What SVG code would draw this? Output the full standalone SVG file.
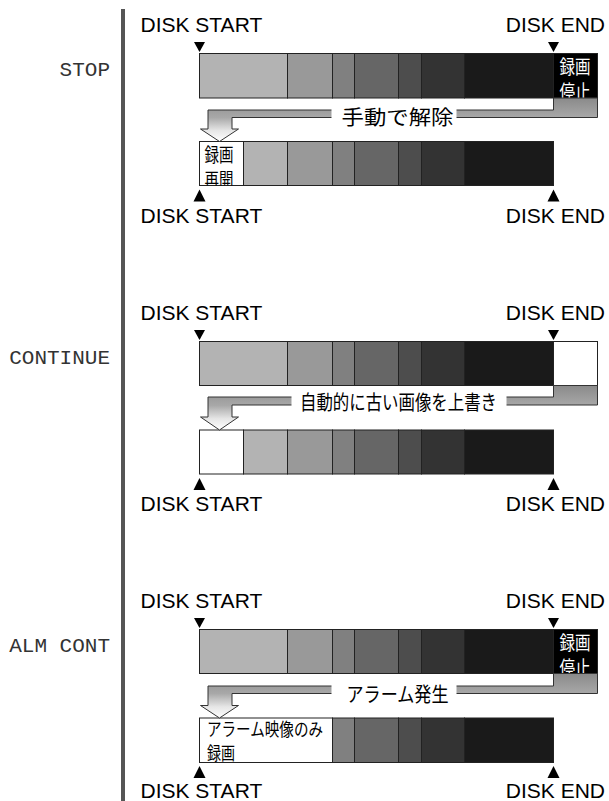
<svg xmlns="http://www.w3.org/2000/svg" width="609" height="801" viewBox="0 0 609 801">
<defs>
<style>
.mode{font-family:"Courier New","Liberation Mono",monospace;font-size:21px;fill:#333;text-anchor:end}
.disk{font-family:"Liberation Sans",Arial,sans-serif;font-size:21px;fill:#000}
.end{text-anchor:end}
.seg rect{stroke:#222;stroke-width:1}
.jp{font-family:"Noto Sans CJK JP","Noto Sans CJK SC",sans-serif;fill:#000}
.lbl{font-size:20px}
.box{font-size:19px}
.box2{font-size:18px}
.wt{fill:#fff}
.flow{fill:url(#fg);stroke:#333;stroke-width:1}
.c1{fill:#b3b3b3}.c2{fill:#999}.c3{fill:#808080}.c4{fill:#666}.c5{fill:#4d4d4d}.c6{fill:#333}.c7{fill:#1a1a1a}.c8{fill:#000}.cw{fill:#fff}
.tri{fill:#000}
</style>
<linearGradient id="fg" x1="0" y1="0" x2="0" y2="1">
<stop offset="0" stop-color="#8a8a8a"/>
<stop offset="0.45" stop-color="#a8a8a8"/>
<stop offset="0.75" stop-color="#e6e6e6"/>
<stop offset="1" stop-color="#fff"/>
</linearGradient>
<path id="tdown" d="M-5.5,0 L5.5,0 L0,10 Z"/>
<path id="tup" d="M-6,12 L6,12 L0,0 Z"/>
<clipPath id="clip1"><rect x="199.5" y="141.5" width="44" height="44"/></clipPath>
<clipPath id="clip3"><rect x="199.5" y="718" width="133" height="44.5"/></clipPath>
</defs>
<rect width="609" height="801" fill="#fff"/>
<line x1="123" y1="9" x2="123" y2="801" stroke="#555" stroke-width="4"/>

<!-- Section STOP -->
<g id="stop">
<text class="mode" x="110" y="76">STOP</text>
<text class="disk" x="140.5" y="32">DISK START</text>
<text class="disk end" x="605" y="32">DISK END</text>
<use href="#tdown" class="tri" x="199.5" y="42"/>
<use href="#tdown" class="tri" x="553.5" y="42"/>
<g class="seg">
<rect class="c1" x="199.5" y="53.5" width="88" height="44.5"/>
<rect class="c2" x="287.5" y="53.5" width="45" height="44.5"/>
<rect class="c3" x="332.5" y="53.5" width="22" height="44.5"/>
<rect class="c4" x="354.5" y="53.5" width="44" height="44.5"/>
<rect class="c5" x="398.5" y="53.5" width="23" height="44.5"/>
<rect class="c6" x="421.5" y="53.5" width="43" height="44.5"/>
<rect class="c7" x="464.5" y="53.5" width="89" height="44.5"/>
<rect class="c8" x="553.5" y="53.5" width="44" height="44.5"/>
</g>
<text class="jp box wt" x="559.5" y="74" textLength="31" lengthAdjust="spacingAndGlyphs">録画</text>
<text class="jp box wt" x="559.5" y="98.5" textLength="31" lengthAdjust="spacingAndGlyphs">停止</text>
<g class="seg">
<rect class="cw" x="199.5" y="141.5" width="44" height="44"/>
<rect class="c1" x="243.5" y="141.5" width="44" height="44"/>
<rect class="c2" x="287.5" y="141.5" width="45" height="44"/>
<rect class="c3" x="332.5" y="141.5" width="22" height="44"/>
<rect class="c4" x="354.5" y="141.5" width="44" height="44"/>
<rect class="c5" x="398.5" y="141.5" width="23" height="44"/>
<rect class="c6" x="421.5" y="141.5" width="43" height="44"/>
<rect class="c7" x="464.5" y="141.5" width="89" height="44"/>
</g>
<g clip-path="url(#clip1)">
<text class="jp box" x="204.5" y="161.5" textLength="29" lengthAdjust="spacingAndGlyphs">録画</text>
<text class="jp box" x="204.5" y="187" textLength="29" lengthAdjust="spacingAndGlyphs">再開</text>
</g>
<use href="#tup" class="tri" x="199.5" y="189.5"/>
<use href="#tup" class="tri" x="553.5" y="189.5"/>
<text class="disk" x="140.5" y="223">DISK START</text>
<text class="disk end" x="605" y="223">DISK END</text>
</g>

<!-- Section CONTINUE -->
<g id="continue">
<text class="mode" x="110" y="364">CONTINUE</text>
<text class="disk" x="140.5" y="320">DISK START</text>
<text class="disk end" x="605" y="320">DISK END</text>
<use href="#tdown" class="tri" x="199.5" y="330"/>
<use href="#tdown" class="tri" x="553.5" y="330"/>
<g class="seg">
<rect class="c1" x="199.5" y="341.5" width="88" height="44"/>
<rect class="c2" x="287.5" y="341.5" width="45" height="44"/>
<rect class="c3" x="332.5" y="341.5" width="22" height="44"/>
<rect class="c4" x="354.5" y="341.5" width="44" height="44"/>
<rect class="c5" x="398.5" y="341.5" width="23" height="44"/>
<rect class="c6" x="421.5" y="341.5" width="43" height="44"/>
<rect class="c7" x="464.5" y="341.5" width="89" height="44"/>
<rect class="cw" x="553.5" y="341.5" width="44" height="44"/>
</g>
<g class="seg">
<rect class="cw" x="199.5" y="430" width="44" height="44"/>
<rect class="c1" x="243.5" y="430" width="44" height="44"/>
<rect class="c2" x="287.5" y="430" width="45" height="44"/>
<rect class="c3" x="332.5" y="430" width="22" height="44"/>
<rect class="c4" x="354.5" y="430" width="44" height="44"/>
<rect class="c5" x="398.5" y="430" width="23" height="44"/>
<rect class="c6" x="421.5" y="430" width="43" height="44"/>
<rect class="c7" x="464.5" y="430" width="89" height="44"/>
</g>
<use href="#tup" class="tri" x="199.5" y="478"/>
<use href="#tup" class="tri" x="553.5" y="478"/>
<text class="disk" x="140.5" y="511">DISK START</text>
<text class="disk end" x="605" y="511">DISK END</text>
</g>

<!-- Section ALM CONT -->
<g id="almcont">
<text class="mode" x="110" y="652">ALM CONT</text>
<text class="disk" x="140.5" y="608">DISK START</text>
<text class="disk end" x="605" y="608">DISK END</text>
<use href="#tdown" class="tri" x="199.5" y="618"/>
<use href="#tdown" class="tri" x="553.5" y="618"/>
<g class="seg">
<rect class="c1" x="199.5" y="629.5" width="88" height="44"/>
<rect class="c2" x="287.5" y="629.5" width="45" height="44"/>
<rect class="c3" x="332.5" y="629.5" width="22" height="44"/>
<rect class="c4" x="354.5" y="629.5" width="44" height="44"/>
<rect class="c5" x="398.5" y="629.5" width="23" height="44"/>
<rect class="c6" x="421.5" y="629.5" width="43" height="44"/>
<rect class="c7" x="464.5" y="629.5" width="89" height="44"/>
<rect class="c8" x="553.5" y="629.5" width="44" height="44"/>
</g>
<text class="jp box wt" x="559.5" y="650" textLength="31" lengthAdjust="spacingAndGlyphs">録画</text>
<text class="jp box wt" x="559.5" y="674.5" textLength="31" lengthAdjust="spacingAndGlyphs">停止</text>
<g class="seg">
<rect class="cw" x="199.5" y="718" width="133" height="44.5"/>
<rect class="c3" x="332.5" y="718" width="22" height="44.5"/>
<rect class="c4" x="354.5" y="718" width="44" height="44.5"/>
<rect class="c5" x="398.5" y="718" width="23" height="44.5"/>
<rect class="c6" x="421.5" y="718" width="43" height="44.5"/>
<rect class="c7" x="464.5" y="718" width="89" height="44.5"/>
</g>
<g clip-path="url(#clip3)">
<text class="jp box2" x="207" y="735.5" textLength="116" lengthAdjust="spacingAndGlyphs">アラーム映像のみ</text>
<text class="jp box2" x="207" y="759.5" textLength="28" lengthAdjust="spacingAndGlyphs">録画</text>
</g>
<use href="#tup" class="tri" x="199.5" y="766"/>
<use href="#tup" class="tri" x="553.5" y="766"/>
<text class="disk" x="140.5" y="797.5">DISK START</text>
<text class="disk end" x="605" y="797.5">DISK END</text>
</g>

<!-- Connectors -->
<g id="connectors">
<path class="flow" d="M553.5,98 H597.5 V117.5 H232 V129 H238.5 L219.5,141.5 L200.5,129 H208 V110 H553.5 Z"/>
<rect x="331.5" y="106" width="125" height="16" fill="#fff"/>
<text class="jp lbl" x="341.5" y="125" textLength="112" lengthAdjust="spacingAndGlyphs">手動で解除</text>

<path class="flow" d="M553.5,385.5 H597.5 V405 H232 V417 H238.5 L219.5,430 L200.5,417 H208 V397 H553.5 Z"/>
<rect x="291.5" y="393" width="215" height="16" fill="#fff"/>
<text class="jp lbl" x="300" y="409.5" textLength="197" lengthAdjust="spacingAndGlyphs">自動的に古い画像を上書き</text>

<path class="flow" d="M553.5,673.5 H597.5 V693.5 H232 V705.5 H238.5 L219.5,718 L200.5,705.5 H208 V686 H553.5 Z"/>
<rect x="331.5" y="682" width="125" height="16" fill="#fff"/>
<text class="jp lbl" x="346.5" y="702" textLength="102" lengthAdjust="spacingAndGlyphs">アラーム発生</text>
</g>
</svg>
